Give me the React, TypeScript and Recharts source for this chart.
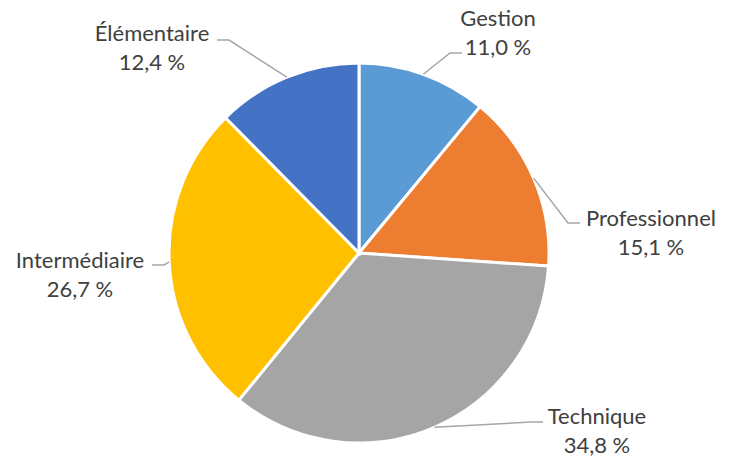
import React from "react";
import { PieChart, Pie, Cell } from "recharts";

const categories = ["Gestion", "Professionnel", "Technique", "Intermédiaire", "Élémentaire"];
const values = [11.0, 15.1, 34.8, 26.7, 12.4];
const colors = ["#5B9BD5", "#ED7D31", "#A5A5A5", "#FFC000", "#4472C4"];

const data = categories.map((name, i) => ({ name, value: values[i] }));

// label layout relative to pie centre: text block centre, leader-line end, and side of text
const labelLayout = [
  { tx: 139, ty: -221, ex: 103, ey: -200, side: 1 },
  { tx: 292, ty: -21, ex: 221, ey: -30, side: 1 },
  { tx: 238, ty: 177, ex: 184, ey: 169, side: 1 },
  { tx: -279, ty: 21, ex: -207, ey: 12, side: -1 },
  { tx: -207, ty: -206, ex: -142, ey: -213, side: -1 },
];

const fmt = (v: number) => v.toFixed(1).replace(".", ",") + " %";
const RAD = Math.PI / 180;

const renderLabel = (props: any) => {
  const { cx, cy, midAngle, outerRadius, index, name, value } = props;
  const L = labelLayout[index];
  const sx = cx + outerRadius * Math.cos(-midAngle * RAD);
  const sy = cy + outerRadius * Math.sin(-midAngle * RAD);
  const endX = cx + L.ex;
  const endY = cy + L.ey;
  const elbowX = endX - L.side * 12;
  const tx = cx + L.tx;
  const ty = cy + L.ty;
  return (
    <g>
      <polyline
        points={`${sx},${sy} ${elbowX},${endY} ${endX},${endY}`}
        fill="none"
        stroke="#A6A6A6"
        strokeWidth={1.5}
      />
      <text
        x={tx}
        y={ty}
        textAnchor="middle"
        fill="#404040"
        fontSize={22}
        fontFamily="Lato, 'Noto Sans', sans-serif"
      >
        <tspan x={tx} y={ty - 14.5} dominantBaseline="central">{name}</tspan>
        <tspan x={tx} y={ty + 14.5} dominantBaseline="central">{fmt(value)}</tspan>
      </text>
    </g>
  );
};

export default function App() {
  return (
    <div style={{ position: "fixed", left: 0, top: 0, width: 734, height: 457, background: "#fff" }}>
      <PieChart width={734} height={457} margin={{ top: 0, right: 0, bottom: 0, left: 0 }}>
        <Pie
          data={data}
          dataKey="value"
          nameKey="name"
          cx={359}
          cy={253}
          outerRadius={190}
          startAngle={90}
          endAngle={-270}
          stroke="#FFFFFF"
          strokeWidth={3}
          label={renderLabel}
          labelLine={false}
          isAnimationActive={false}
        >
          {data.map((d, i) => (
            <Cell key={d.name} fill={colors[i]} />
          ))}
        </Pie>
      </PieChart>
    </div>
  );
}
